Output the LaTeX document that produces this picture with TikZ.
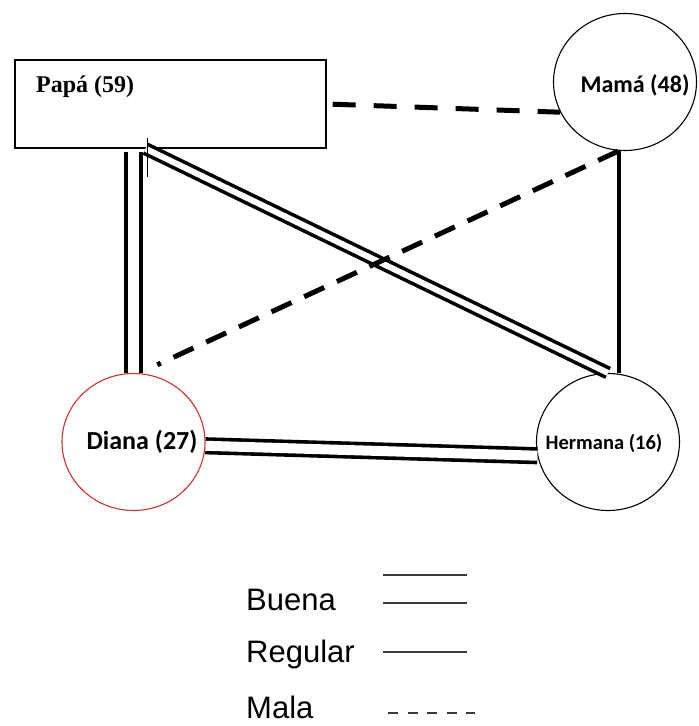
\documentclass[tikz,border=0pt]{standalone}
\usepackage{fontspec}
\setmainfont{Liberation Serif}
\newfontfamily\calfont{Carlito}
\newfontfamily\arialfont{Liberation Sans}
\usepackage{tikz}
\usetikzlibrary{shapes.geometric,calc}
\definecolor{cDiana}{HTML}{D32F2F}
\definecolor{cLeg}{HTML}{3A3A3A}
\tikzset{
  person/.style={ellipse, draw=#1, line width=1.1pt, minimum width=143pt, minimum height=137pt, inner sep=0pt},
  person/.default=black,
  famrect/.style={rectangle, draw, line width=1.4pt, minimum width=311pt, minimum height=88pt, inner sep=0pt},
  buena/.style={double, double distance=#1, line width=3.6pt},
  buena/.default=8pt,
  regular/.style={line width=4.4pt},
  mala/.style={line width=5pt, dash pattern=on 23pt off 18pt},
  legline/.style={line width=2pt, draw=cLeg},
  lbl/.style={font=\arialfont\fontsize{31}{31}\selectfont, anchor=base west, inner sep=0pt},
  ptxt/.style={font=\calfont\bfseries\fontsize{#1}{#1}\selectfont},
}
\begin{document}
\begin{tikzpicture}[x=1pt, y=-1pt]
  \useasboundingbox (0,0) rectangle (699,726);
  % family members
  \node[famrect] (papa) at (170.5,104) {};
  \node[anchor=base west, inner sep=0pt, font=\bfseries\fontsize{24}{26}\selectfont] (papaTxt) at (36,92) {Papá (59)};
  \node[person, label={[xshift=10pt, yshift=-3pt, ptxt=24]center:Mamá (48)}] (mama) at (625,82) {};
  \node[person=cDiana, label={[xshift=8.5pt, ptxt=26]center:Diana (27)}] (diana) at (133.5,442) {};
  \node[person, label={[xshift=-4pt, yshift=-1pt, ptxt=20.5]center:Hermana (16)}] (hermana) at (608,442) {};
  % relations
  \draw[buena=11.5pt, shorten <=3pt] (papa.south -| diana.north) -- (diana.north);
  \draw[buena=6pt] ($(papa.south west)!0.42!(papa.south east)$) -- (hermana.north);
  \draw[buena=10pt] (diana.-3) -- (hermana.191);
  \draw[regular] (mama.265) -- (mama.265 |- hermana.north);
  \draw[mala, shorten <=6pt] (papa.east) -- (mama.205);
  \draw[mala, dash pattern=on 22pt off 14pt, dash phase=18pt] ([yshift=12pt]diana.70) -- (mama.265);
  % cursor mark
  \coordinate (curT) at (147,138);
  \coordinate (curB) at (147,177);
  \draw[line width=0.8pt] (curT) -- (curB);
  % legend
  \node[lbl] (lBuena) at (246,610) {Buena};
  \node[lbl] (lRegular) at (246,662) {Regular};
  \node[lbl] (lMala) at (246,718) {Mala};
  \coordinate (bA1) at (383,575); \coordinate (bA2) at (467,575);
  \coordinate (bB1) at (383,603); \coordinate (bB2) at (467,603);
  \coordinate (r1) at (383,652); \coordinate (r2) at (467,652);
  \coordinate (m1) at (388,713); \coordinate (m2) at (475,713);
  \draw[legline] (bA1) -- (bA2);
  \draw[legline] (bB1) -- (bB2);
  \draw[legline] (r1) -- (r2);
  \draw[legline, line width=2.4pt, dash pattern=on 10pt off 9.5pt] (m1) -- (m2);
\end{tikzpicture}
\end{document}
